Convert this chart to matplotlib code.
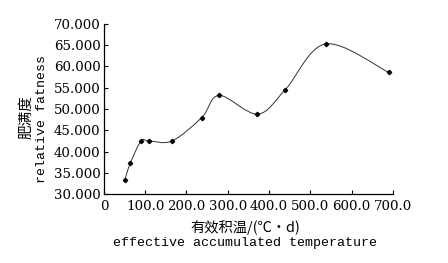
import matplotlib
matplotlib.use("Agg")
import matplotlib.pyplot as plt
from matplotlib.path import Path
from matplotlib.patches import PathPatch
import numpy as np

# effective accumulated temperature (°C·d) vs relative fatness
temp = [50, 64, 90, 109, 165, 237, 279, 372, 439, 537, 690]
fatness = [33.2, 37.3, 42.5, 42.5, 42.5, 48.0, 53.2, 48.8, 54.5, 65.3, 58.6]

yticks = [30, 35, 40, 45, 50, 55, 60, 65, 70]
xticks = [0, 100, 200, 300, 400, 500, 600, 700]

plt.rcParams['font.family'] = ['DejaVu Serif', 'Noto Sans CJK SC']


def smooth_path(xs, ys, tension=1 / 6):
    # Catmull-Rom style bezier through the data points
    pts = np.column_stack([xs, ys])
    verts = [pts[0]]
    codes = [Path.MOVETO]
    n = len(pts)
    for i in range(n - 1):
        p0 = pts[max(i - 1, 0)]
        p1 = pts[i]
        p2 = pts[i + 1]
        p3 = pts[min(i + 2, n - 1)]
        c1 = p1 + (p2 - p0) * tension
        c2 = p2 - (p3 - p1) * tension
        verts += [c1, c2, p2]
        codes += [Path.CURVE4] * 3
    return Path(verts, codes)


fig = plt.figure(figsize=(4.48, 2.63), dpi=100)
ax = fig.add_axes([0.232, 0.262, 0.645, 0.647])

ax.add_patch(PathPatch(smooth_path(temp, fatness), fill=False,
                       edgecolor='#333333', lw=0.7))
ax.plot(temp, fatness, linestyle='none', marker='D', ms=2.2, color='black')

ax.set_xlim(0, 700)
ax.set_ylim(30, 70)
ax.set_xticks(xticks)
ax.set_yticks(yticks)
ax.set_xticklabels(['0'] + ['%.1f' % v for v in xticks[1:]])
ax.set_yticklabels(['%.3f' % v for v in yticks])
ax.tick_params(direction='in', length=3, width=0.8, labelsize=9.6)
ax.tick_params(axis='x', pad=4)
ax.tick_params(axis='y', pad=2.5)

for s in ['top', 'right']:
    ax.spines[s].set_visible(False)
for s in ['left', 'bottom']:
    ax.spines[s].set_linewidth(0.9)

fig.text(0.547, 0.135, '有效积温/(℃·d)', ha='center', va='center',
         fontsize=10.3, family='Noto Sans CJK SC')
fig.text(0.546, 0.076, 'effective accumulated temperature', ha='center',
         va='center', fontsize=9.6, family='Liberation Mono')
fig.text(0.058, 0.553, '肥满度', ha='center', va='center', rotation=90,
         fontsize=10.5, family='Noto Sans CJK SC')
fig.text(0.094, 0.549, 'relative fatness', ha='center', va='center',
         rotation=90, fontsize=9.5, family='Liberation Mono')

fig.savefig('out.png', dpi=100)
